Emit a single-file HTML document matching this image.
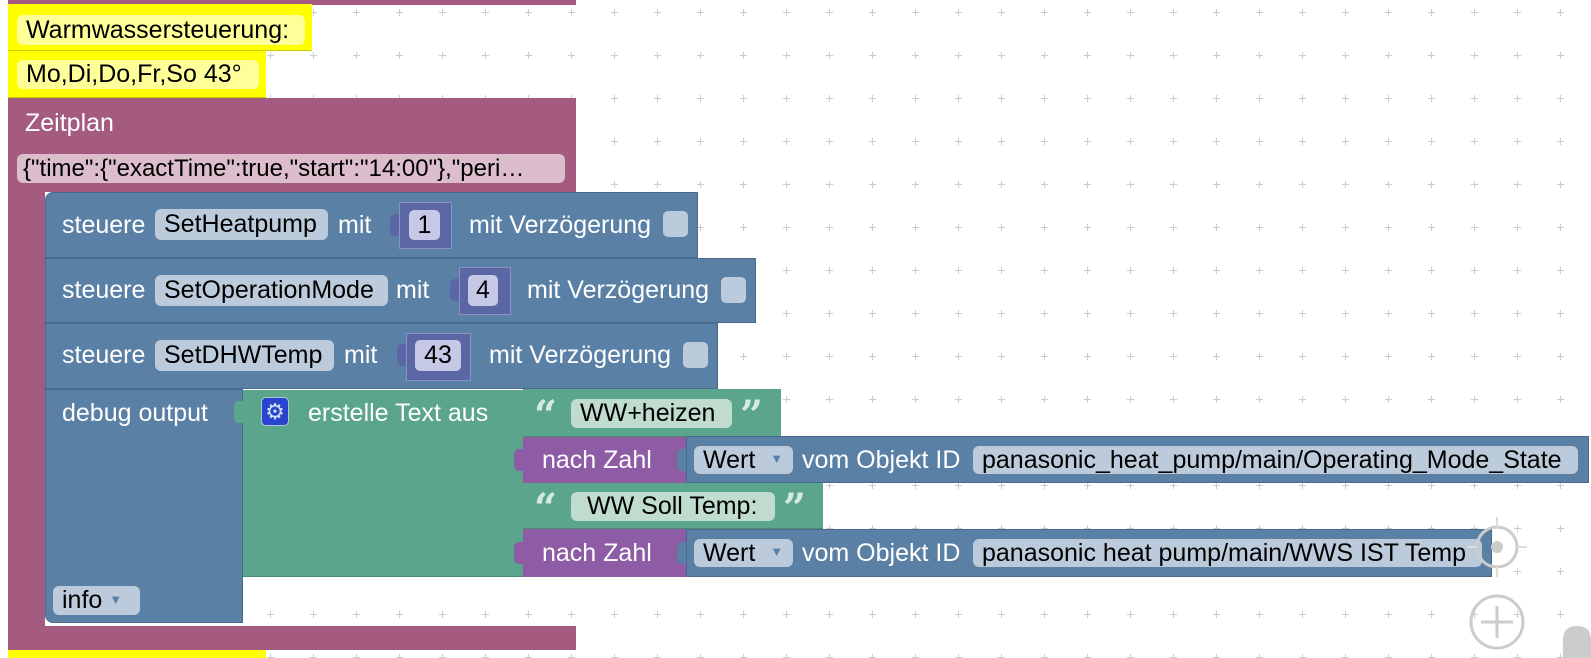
<!DOCTYPE html>
<html><head><meta charset="utf-8"><style>
html,body{margin:0;padding:0}
body{width:1591px;height:658px;overflow:hidden;position:relative;background:#fff;font-family:"Liberation Sans",Arial,sans-serif}
.a{position:absolute;box-sizing:border-box}
.t{position:absolute;color:#fff;font-size:25px;white-space:nowrap}
.p{position:absolute;border-radius:6px;color:#000;font-size:25px;white-space:nowrap;box-sizing:border-box;padding-left:9px}
.bl{background:#5b80a5;border:1px solid #496a8c}
.pb{background:#bccbdb}
.cb{position:absolute;background:#bccbdb;border-radius:5px;width:25px;height:26px}
.val{position:absolute;background:#5b67a5;border:1px solid #8a93c4;box-sizing:border-box}
.pv{position:absolute;background:#c5c9e6;border-radius:5px;color:#000;font-size:25px;text-align:center}
.tab{position:absolute;width:9px;height:22px;border-radius:5px 0 0 5px}
.q{position:absolute;color:#d5eadf;font-family:"DejaVu Serif",serif;font-weight:bold;font-size:40px;line-height:40px}
.dd{font-size:13px;color:#5b80a5;vertical-align:middle;position:relative;top:-2px}
</style></head><body>
<svg class="a" style="left:0;top:0" width="1591" height="658">
<defs><pattern id="g" x="8" y="8" width="43" height="43" patternUnits="userSpaceOnUse">
<path d="M1 4.5H8M4.5 1V8" stroke="#ccc" stroke-width="1"/></pattern></defs>
<rect width="1591" height="658" fill="url(#g)"/>
</svg>

<div class="a" style="left:8px;top:0;width:568px;height:5px;background:#a55b80"></div>
<div class="a" style="left:8px;top:4px;width:304px;height:47px;background:#ffff00;border-bottom:1px solid #cccc00"></div>
<div class="p" style="left:17px;top:15px;width:288px;height:30px;line-height:30px;background:#ffff99">Warmwassersteuerung:</div>
<div class="a" style="left:8px;top:51px;width:258px;height:47px;background:#ffff00;border-bottom:1px solid #cccc00"></div>
<div class="p" style="left:17px;top:60px;width:242px;height:29px;line-height:29px;background:#ffff99">Mo,Di,Do,Fr,So 43°</div>

<div class="a" style="left:8px;top:98px;width:568px;height:94px;background:#a55b80"></div>
<div class="a" style="left:8px;top:190px;width:37px;height:440px;background:#a55b80"></div>
<div class="a" style="left:8px;top:626px;width:568px;height:24px;background:#a55b80"></div>
<div class="a" style="left:8px;top:650px;width:258px;height:8px;background:#ffff00"></div>
<div class="t" style="left:25px;top:108px;height:30px;line-height:30px">Zeitplan</div>
<div class="p" style="left:17px;top:154px;width:548px;height:29px;line-height:29px;background:#dbbdcb;padding-left:6px;font-size:24px">{"time":{"exactTime":true,"start":"14:00"},"peri…</div>

<div class="a bl" style="left:45px;top:192px;width:653px;height:66px;border-radius:8px 0 0 0"></div>
<div class="t" style="left:62px;top:210px;height:30px;line-height:30px">steuere</div>
<div class="p pb" style="left:155px;top:209px;width:173px;height:31px;line-height:31px">SetHeatpump</div>
<div class="t" style="left:338px;top:210px;height:30px;line-height:30px">mit</div>
<div class="tab" style="left:390px;top:214px;background:#5b67a5"></div>
<div class="val" style="left:399px;top:202px;width:53px;height:47px"></div>
<div class="pv" style="left:409px;top:210px;width:31px;height:30px;line-height:30px">1</div>
<div class="t" style="left:469px;top:210px;height:30px;line-height:30px">mit Verzögerung</div>
<div class="cb" style="left:663px;top:211px"></div>

<div class="a bl" style="left:45px;top:258px;width:711px;height:65px"></div>
<div class="t" style="left:62px;top:275px;height:30px;line-height:30px">steuere</div>
<div class="p pb" style="left:155px;top:275px;width:233px;height:31px;line-height:31px">SetOperationMode</div>
<div class="t" style="left:396px;top:275px;height:30px;line-height:30px">mit</div>
<div class="tab" style="left:450px;top:279px;background:#5b67a5"></div>
<div class="val" style="left:459px;top:267px;width:52px;height:48px"></div>
<div class="pv" style="left:468px;top:275px;width:30px;height:31px;line-height:31px">4</div>
<div class="t" style="left:527px;top:275px;height:30px;line-height:30px">mit Verzögerung</div>
<div class="cb" style="left:721px;top:277px"></div>

<div class="a bl" style="left:45px;top:323px;width:673px;height:66px"></div>
<div class="t" style="left:62px;top:340px;height:30px;line-height:30px">steuere</div>
<div class="p pb" style="left:155px;top:340px;width:179px;height:31px;line-height:31px">SetDHWTemp</div>
<div class="t" style="left:344px;top:340px;height:30px;line-height:30px">mit</div>
<div class="tab" style="left:397px;top:344px;background:#5b67a5"></div>
<div class="val" style="left:406px;top:333px;width:65px;height:48px"></div>
<div class="pv" style="left:415px;top:340px;width:46px;height:31px;line-height:31px">43</div>
<div class="t" style="left:489px;top:340px;height:30px;line-height:30px">mit Verzögerung</div>
<div class="cb" style="left:683px;top:342px"></div>

<div class="a bl" style="left:45px;top:389px;width:198px;height:234px;border-radius:0 0 0 8px"></div>
<div class="t" style="left:62px;top:398px;height:30px;line-height:30px">debug output</div>
<div class="p pb" style="left:53px;top:586px;width:87px;height:29px;line-height:29px">info <span class="dd">▼</span></div>

<div class="a" style="left:243px;top:390px;width:280px;height:187px;background:#5ba58c;border-bottom:1px solid #4a8a74"></div>
<div class="tab" style="left:234px;top:401px;background:#5ba58c"></div>
<div class="a" style="left:261px;top:397px;width:28px;height:29px;background:#2b44cf;border:1px solid #a9c7d7;border-radius:5px;color:#cfe3ee;font-size:22px;line-height:27px;text-align:center">⚙</div>
<div class="t" style="left:308px;top:398px;height:30px;line-height:30px">erstelle Text aus</div>

<div class="a" style="left:523px;top:389px;width:258px;height:48px;background:#5ba58c;border-bottom:1px solid #4a8a74"></div>
<div class="q" style="left:534px;top:396px">“</div>
<div class="p" style="left:571px;top:399px;width:161px;height:29px;line-height:29px;background:#bfdccf">WW+heizen</div>
<div class="q" style="left:740px;top:396px">”</div>

<div class="a" style="left:523px;top:437px;width:163px;height:46px;background:#8e5ba5"></div>
<div class="tab" style="left:514px;top:449px;background:#8e5ba5"></div>
<div class="t" style="left:542px;top:445px;height:30px;line-height:30px">nach Zahl</div>
<div class="a bl" style="left:686px;top:436px;width:903px;height:47px"></div>
<div class="tab" style="left:677px;top:449px;background:#5b80a5"></div>
<div class="p pb" style="left:694px;top:446px;width:99px;height:28px;line-height:28px">Wert <span class="dd" style="margin-left:8px">▼</span></div>
<div class="t" style="left:802px;top:445px;height:30px;line-height:30px">vom Objekt ID</div>
<div class="p pb" style="left:973px;top:446px;width:605px;height:28px;line-height:28px">panasonic_heat_pump/main/Operating_Mode_State</div>

<div class="a" style="left:523px;top:483px;width:300px;height:46px;background:#5ba58c;border-bottom:1px solid #4a8a74"></div>
<div class="q" style="left:534px;top:489px">“</div>
<div class="p" style="left:571px;top:492px;width:204px;height:29px;line-height:29px;background:#bfdccf;padding-left:16px">WW Soll Temp:</div>
<div class="q" style="left:783px;top:489px">”</div>

<div class="a" style="left:523px;top:529px;width:163px;height:48px;background:#8e5ba5"></div>
<div class="tab" style="left:514px;top:542px;background:#8e5ba5"></div>
<div class="t" style="left:542px;top:538px;height:30px;line-height:30px">nach Zahl</div>
<div class="a bl" style="left:686px;top:529px;width:806px;height:48px"></div>
<div class="tab" style="left:677px;top:542px;background:#5b80a5"></div>
<div class="p pb" style="left:694px;top:539px;width:99px;height:28px;line-height:28px">Wert <span class="dd" style="margin-left:8px">▼</span></div>
<div class="t" style="left:802px;top:538px;height:30px;line-height:30px">vom Objekt ID</div>
<div class="p pb" style="left:973px;top:539px;width:509px;height:28px;line-height:28px">panasonic heat pump/main/WWS IST Temp</div>

<svg class="a" style="left:1440px;top:500px" width="151" height="158">
<circle cx="57" cy="47" r="20" fill="none" stroke="#ccc" stroke-width="3"/>
<circle cx="57" cy="47" r="6" fill="#ccc"/>
<path d="M57 17V27M57 67V77M27 47H37M77 47H87" stroke="#ddd" stroke-width="2"/>
<circle cx="57" cy="122" r="26" fill="none" stroke="#ccc" stroke-width="3"/>
<path d="M57 106V138M41 122H73" stroke="#ccc" stroke-width="3"/>
<path d="M123 158V140Q123 126 137 126Q151 126 151 140V158Z" fill="#ccc"/>
</svg>
</body></html>
